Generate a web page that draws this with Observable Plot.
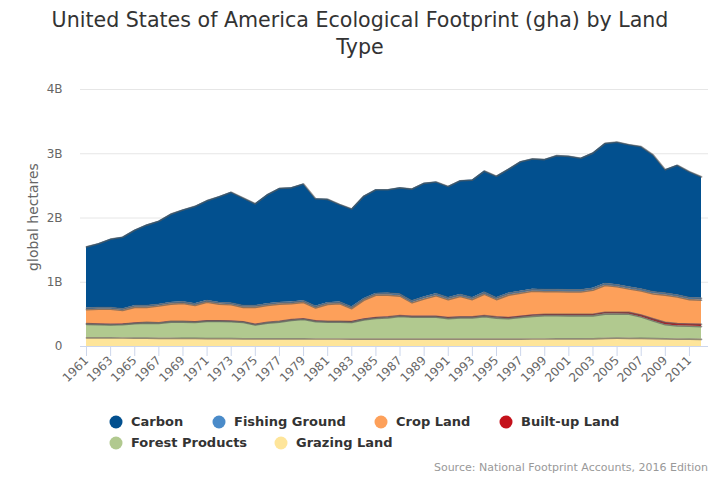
<!DOCTYPE html>
<html><head><meta charset="utf-8">
<script src="https://cdn.jsdelivr.net/npm/d3@7"></script>
<script src="https://cdn.jsdelivr.net/npm/@observablehq/plot@0.6"></script>
<style>
body{margin:0;background:#fff;font-family:"DejaVu Sans",sans-serif;}
#wrap{position:relative;width:720px;height:480px;overflow:hidden;background:#fff}
#title{position:absolute;top:7px;left:0;width:720px;text-align:center;font-size:20.6px;color:#333;line-height:27px}
#chart{position:absolute;top:70px;left:0}
#ytitle{position:absolute;left:33px;top:217px;transform:translate(-50%,-50%) rotate(-90deg);font-size:14px;color:#666;white-space:nowrap}
.leg{position:absolute;font-size:13px;font-weight:bold;color:#333;white-space:nowrap;line-height:16px;transform:translateY(-50%)}
.dot{position:absolute;width:13px;height:13px;border-radius:50%;transform:translate(-50%,-50%)}
#source{position:absolute;right:12px;top:461px;font-size:11px;color:#999}
</style></head>
<body>
<div id="wrap">
  <div id="title">United States of America Ecological Footprint (gha) by Land<br>Type</div>
  <div id="chart"></div>
  <div id="ytitle">global hectares</div>
  <div id="legend"></div>
  <div id="source">Source: National Footprint Accounts, 2016 Edition</div>
</div>
<script>
// values in billions of global hectares
const years = d3.range(1961, 2013);
const grazing = [0.135,0.135,0.133,0.132,0.130,0.130,0.128,0.127,0.126,0.125,0.124,0.123,0.122,0.120,0.118,0.118,0.118,0.118,0.118,0.117,0.117,0.117,0.116,0.116,0.116,0.116,0.116,0.115,0.115,0.115,0.115,0.115,0.115,0.115,0.115,0.115,0.116,0.117,0.117,0.118,0.118,0.118,0.120,0.128,0.130,0.128,0.125,0.122,0.118,0.116,0.114,0.112];
const forest = [0.210,0.205,0.202,0.208,0.225,0.235,0.232,0.253,0.254,0.250,0.266,0.267,0.263,0.255,0.217,0.247,0.262,0.287,0.302,0.271,0.261,0.261,0.259,0.299,0.321,0.331,0.351,0.342,0.342,0.342,0.320,0.330,0.330,0.350,0.328,0.317,0.336,0.353,0.363,0.362,0.360,0.360,0.358,0.377,0.375,0.375,0.335,0.276,0.222,0.204,0.201,0.198];
const builtup = [0.010,0.010,0.010,0.010,0.010,0.010,0.010,0.010,0.010,0.010,0.010,0.010,0.010,0.010,0.010,0.010,0.010,0.012,0.012,0.012,0.012,0.012,0.013,0.012,0.013,0.013,0.013,0.013,0.013,0.013,0.015,0.015,0.015,0.015,0.017,0.018,0.018,0.020,0.020,0.020,0.022,0.022,0.022,0.025,0.025,0.027,0.030,0.032,0.035,0.035,0.035,0.035];
const crop = [0.218,0.230,0.235,0.210,0.245,0.235,0.260,0.270,0.280,0.255,0.290,0.260,0.255,0.225,0.265,0.265,0.270,0.250,0.255,0.200,0.266,0.277,0.202,0.293,0.350,0.340,0.305,0.210,0.270,0.320,0.280,0.320,0.270,0.335,0.270,0.350,0.360,0.370,0.355,0.355,0.350,0.350,0.375,0.420,0.400,0.365,0.375,0.390,0.425,0.415,0.380,0.375];
const fishing = [0.025,0.025,0.025,0.025,0.025,0.025,0.025,0.025,0.025,0.025,0.025,0.025,0.025,0.025,0.025,0.025,0.025,0.025,0.025,0.025,0.025,0.025,0.025,0.025,0.025,0.030,0.030,0.030,0.030,0.030,0.030,0.030,0.030,0.030,0.030,0.030,0.030,0.030,0.030,0.030,0.030,0.030,0.030,0.030,0.030,0.030,0.030,0.030,0.030,0.030,0.030,0.030];
const carbon = [0.952,0.995,1.065,1.115,1.175,1.255,1.295,1.375,1.430,1.515,1.555,1.645,1.725,1.675,1.585,1.695,1.775,1.778,1.818,1.675,1.609,1.518,1.525,1.595,1.615,1.610,1.655,1.740,1.770,1.740,1.730,1.770,1.830,1.885,1.890,1.930,2.015,2.030,2.025,2.085,2.080,2.050,2.105,2.180,2.220,2.215,2.215,2.130,1.920,2.020,1.960,1.890];

const seriesNames = ["Carbon","Fishing Ground","Crop Land","Built-up Land","Forest Products","Grazing Land"];
const seriesColors = ["#02508f","#4a8bc9","#fda05a","#c4111b","#b1c98f","#fee59a"];
const seriesValues = [carbon, fishing, crop, builtup, forest, grazing];
const stackOrder = ["Grazing Land","Forest Products","Built-up Land","Crop Land","Fishing Ground","Carbon"];
const xTicks = d3.range(1961, 2013, 2);
const yTicks = [0,1,2,3,4];

const data = [];
seriesNames.forEach((name, i) => {
  years.forEach((yr, j) => data.push({year: yr, type: name, value: seriesValues[i][j]}));
});

const chart = Plot.plot({
  width: 720,
  height: 330,
  marginTop: 19,
  marginBottom: 54,
  marginLeft: 86,
  marginRight: 19,
  style: {fontFamily: "DejaVu Sans, sans-serif", fontSize: "12px", color: "#666", background: "#fff"},
  x: {domain: [1961, 2012]},
  y: {domain: [0, 4]},
  color: {domain: seriesNames, range: seriesColors},
  marks: [
    Plot.ruleY(yTicks.slice(1), {stroke: "#e6e6e6", insetLeft: -6, insetRight: -7}),
    Plot.areaY(data, {x: "year", y: "value", z: "type", fill: "type", order: stackOrder, curve: "linear"}),
    Plot.lineY(data, Plot.stackY2({x: "year", y: "value", z: "type", order: stackOrder, stroke: "#5a5a5a", strokeWidth: 1.7, strokeOpacity: 0.65})),
    Plot.ruleY([0], {stroke: "#ccd6eb", insetLeft: -6, insetRight: -7}),
    Plot.axisX({ticks: xTicks, tickFormat: d => String(d), tickSize: 10, tickRotate: -45, stroke: "#ccd6eb", tickPadding: 2, fill: "#666", fontSize: 12, label: null}),
    Plot.axisY({ticks: yTicks, tickFormat: d => d === 0 ? "0" : d + "B", tickSize: 0, tickPadding: 24, fill: "#666", fontSize: 12, label: null})
  ]
});
document.getElementById("chart").appendChild(chart);

// legend
const legendPos = [[116,422],[219,422],[381,422],[506,422],[116,443],[281,443]];
const leg = document.getElementById("legend");
seriesNames.forEach((name, i) => {
  const [lx, ly] = legendPos[i];
  const dot = document.createElement("div");
  dot.className = "dot";
  dot.style.left = lx + "px"; dot.style.top = ly + "px"; dot.style.background = seriesColors[i];
  leg.appendChild(dot);
  const t = document.createElement("div");
  t.className = "leg";
  t.style.left = (lx + 15) + "px"; t.style.top = ly + "px";
  t.textContent = name;
  leg.appendChild(t);
});
</script>
</body></html>
